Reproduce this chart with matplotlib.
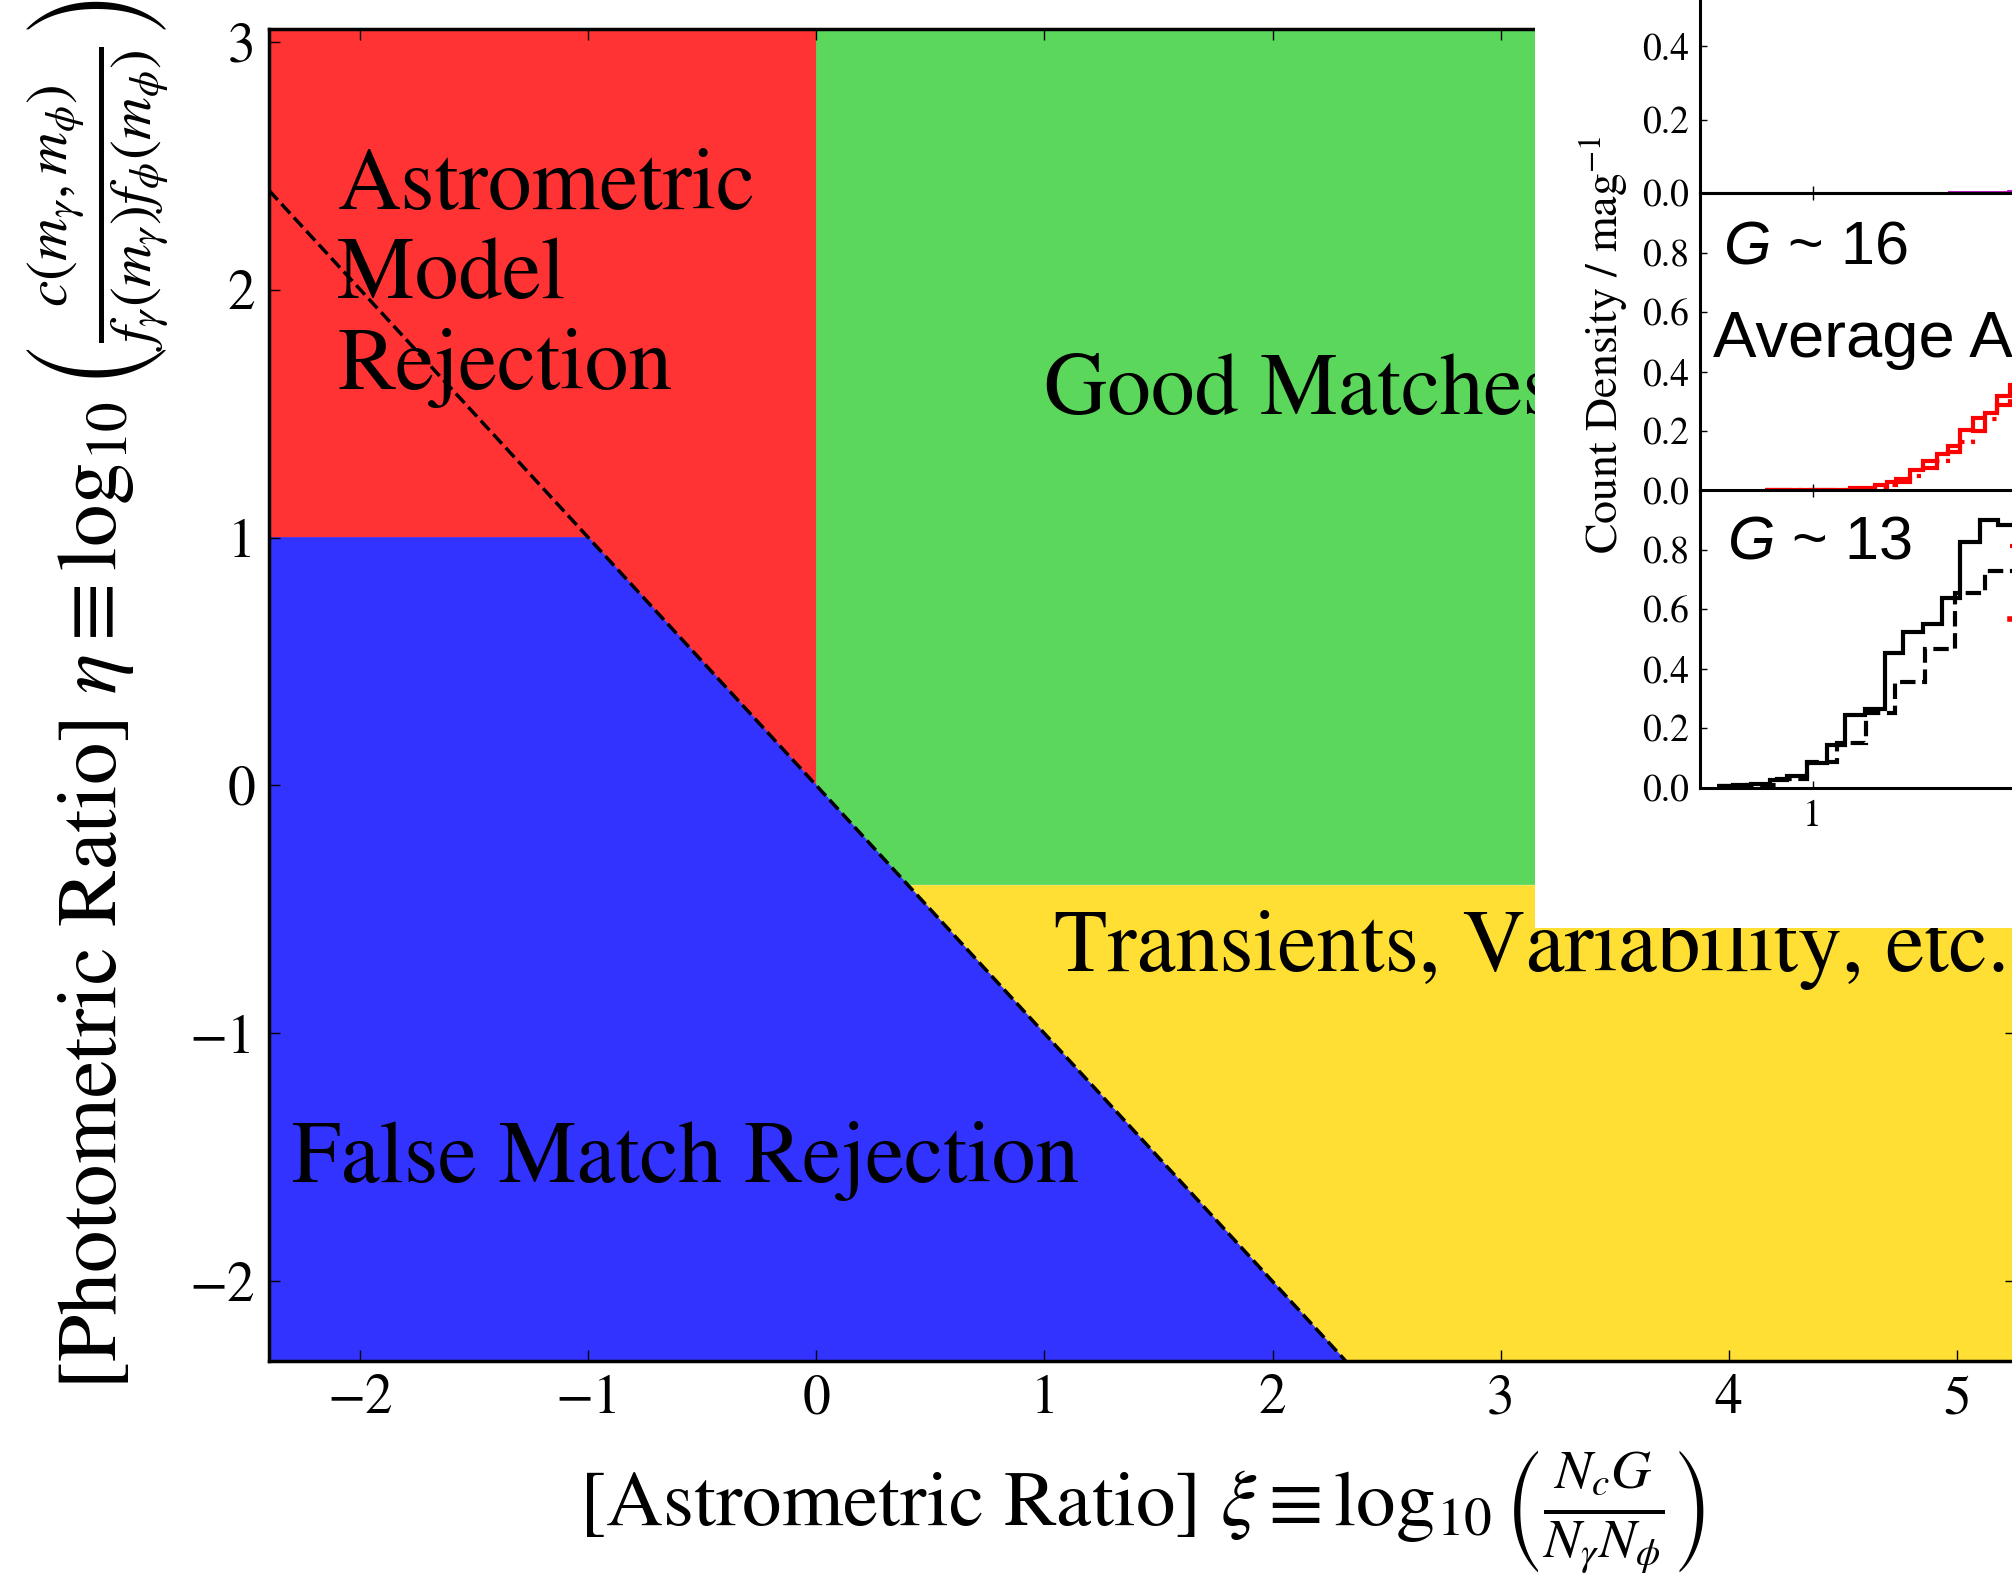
import matplotlib
matplotlib.use('Agg')
import matplotlib.pyplot as plt
from matplotlib.patches import Rectangle
from matplotlib.lines import Line2D
from matplotlib.ticker import MultipleLocator

plt.rcParams['font.family'] = 'STIXGeneral'
plt.rcParams['mathtext.fontset'] = 'stix'
# used only by the inset labels (math_fontfamily='custom')
plt.rcParams['mathtext.rm'] = 'Liberation Sans'
plt.rcParams['mathtext.it'] = 'Liberation Sans:italic'

# ---- main plane: astrometric ratio (xi) vs photometric ratio (eta) ----
xi_lim = (-2.4, 5.26)
eta_lim = (-2.32, 3.05)
xi_cut = 0.0        # astrometric cut
eta_cut_hi = 1.0    # photometric cut on the rejected side
eta_cut_lo = -0.4   # photometric cut on the accepted side
# the dashed line is xi + eta = 0

region_labels = ['Astrometric\nModel\nRejection', 'Good Matches',
                 'Transients, Variability, etc.', 'False Match Rejection']
region_colors = ['#ff3333', '#5bd75b', '#ffdf33', '#3333ff']

# ---- inset: count density histograms ----
g16_edges = [0.878, 1.096, 1.160, 1.190, 1.215, 1.250, 1.284, 1.318, 1.348,
             1.378, 1.412, 1.442, 1.472, 1.506, 1.540]
g16_obs = [0.003, 0.01, 0.02, 0.03, 0.04, 0.07, 0.10, 0.125, 0.15,
           0.205, 0.245, 0.26, 0.32, 0.355]
g16_mod = [0.002, 0.006, 0.012, 0.02, 0.03, 0.05, 0.075, 0.10, 0.13,
           0.165, 0.20, 0.24, 0.29, 0.32]

g13_edges = [0.758, 0.796, 0.843, 0.891, 0.933, 0.985, 1.036, 1.083, 1.134,
             1.185, 1.232, 1.284, 1.331, 1.378, 1.429, 1.476, 1.523]
g13_obs = [0.005, 0.01, 0.012, 0.026, 0.04, 0.082, 0.144, 0.245, 0.264,
           0.451, 0.523, 0.551, 0.636, 0.825, 0.90, 0.883]
g13_mod_edges = [0.754, 0.831, 0.908, 0.985, 1.062, 1.138, 1.211, 1.288,
                 1.365, 1.442, 1.519]
g13_mod = [0.004, 0.01, 0.03, 0.085, 0.15, 0.25, 0.355, 0.467, 0.656, 0.73]

top_edges = [1.30, 1.35, 1.40, 1.45, 1.50, 1.55]
top_vals = [0.002, 0.003, 0.003, 0.004, 0.005]

density_ticks = [0.0, 0.2, 0.4, 0.6, 0.8]

fig = plt.figure(figsize=(20.12, 15.74), dpi=100)
ax = fig.add_axes([0.1337, 0.1355, 0.8683, 0.8459])

x0, x1 = xi_lim
y0, y1 = eta_lim
polys = [
    [(x0, y1), (xi_cut, y1), (xi_cut, -xi_cut), (-eta_cut_hi, eta_cut_hi), (x0, eta_cut_hi)],
    [(xi_cut, y1), (x1, y1), (x1, eta_cut_lo), (-eta_cut_lo, eta_cut_lo), (xi_cut, -xi_cut)],
    [(-eta_cut_lo, eta_cut_lo), (x1, eta_cut_lo), (x1, y0), (-y0, y0)],
    [(x0, eta_cut_hi), (-eta_cut_hi, eta_cut_hi), (-y0, y0), (x0, y0)],
]
for poly, col in zip(polys, region_colors):
    xs, ys = zip(*poly)
    ax.fill(xs, ys, facecolor=col, edgecolor=col, lw=0.5, zorder=1)
ax.plot([x0, -y0], [-x0, y0], 'k--', lw=2.5, zorder=2)

# baseline of the (last) line of each label
label_pos = [(-2.1, 1.60), (1.0, 1.5), (1.04, -0.75), (-2.3, -1.6)]
for (tx, ty), lab in zip(label_pos, region_labels):
    ax.text(tx, ty, lab, fontsize=63, va='baseline', ha='left',
            linespacing=1.17, zorder=3)

ax.set_xlim(xi_lim)
ax.set_ylim(eta_lim)
ax.xaxis.set_major_locator(MultipleLocator(1))
ax.yaxis.set_major_locator(MultipleLocator(1))
ax.tick_params(direction='in', length=8, width=1, labelsize=40, pad=10,
               top=True, right=True)
for sp in ax.spines.values():
    sp.set_linewidth(2.5)
ax.set_xlabel(r'[Astrometric Ratio] $\xi \equiv \log_{10}\left(\frac{N_c G}{N_\gamma N_\phi}\right)$',
              fontsize=57, labelpad=17)
ax.set_ylabel(r'[Photometric Ratio] $\eta \equiv \log_{10}\left(\frac{c(m_\gamma,m_\phi)}{f_\gamma(m_\gamma)f_\phi(m_\phi)}\right)$',
              fontsize=61, labelpad=13)

# white backing of the inset figure
fig.add_artist(Rectangle((0.7629, 0.4104), 0.3, 0.6, transform=fig.transFigure,
                         facecolor='white', edgecolor='none', zorder=1))

bottoms = [0.8772, 0.6882, 0.4996]
axs = [fig.add_axes([0.8449, b, 0.3479, 0.18895], zorder=2) for b in bottoms]
for a in axs:
    a.set_xlim(0.711, 2.506)
    a.set_xticks([1, 2])
    a.set_yticks(density_ticks)
    a.yaxis.set_major_formatter('{x:.1f}')
    a.tick_params(direction='in', length=5, width=1, labelsize=27, pad=8,
                  top=True, right=True)
    for sp in a.spines.values():
        sp.set_linewidth(2.2)
for a in axs[:2]:
    a.tick_params(labelbottom=False)

axs[0].set_ylim(0, 0.81)
axs[0].stairs(top_vals, top_edges, color='m', lw=2, baseline=None)

axs[1].set_ylim(0, 1.0)
axs[1].stairs(g16_obs, g16_edges, color='r', lw=3, baseline=None)
axs[1].stairs(g16_mod, g16_edges, color='r', ls='-.', lw=3, baseline=None)
axs[1].text(0.033, 0.765, r'$G$ ~ 16', transform=axs[1].transAxes, fontsize=44,
            family='Liberation Sans', math_fontfamily='custom', va='baseline')
axs[1].text(0.018, 0.45, 'Average A', transform=axs[1].transAxes, fontsize=47,
            family='Liberation Sans', va='baseline')

axs[2].set_ylim(0, 1.0)
axs[2].stairs(g13_obs, g13_edges, color='k', lw=3, baseline=None)
axs[2].stairs(g13_mod, g13_mod_edges, color='k', ls='--', lw=3, baseline=None)
axs[2].text(0.038, 0.771, r'$G$ ~ 13', transform=axs[2].transAxes, fontsize=44,
            family='Liberation Sans', math_fontfamily='custom', va='baseline')
handles = [Line2D([], [], color='r', ls='-.', lw=3), Line2D([], [], color='r', lw=4)]
axs[2].legend(handles, ['Model', 'Observed'], loc='center left',
              bbox_to_anchor=(0.443, 0.674), frameon=False, fontsize=32,
              borderpad=0, borderaxespad=0, labelspacing=0.73)

fig.text(0.797, 0.781, r'Count Density / mag$^{-1}$', rotation=90,
         ha='center', va='center', fontsize=33, zorder=3)

fig.savefig('out.png', dpi=100)
